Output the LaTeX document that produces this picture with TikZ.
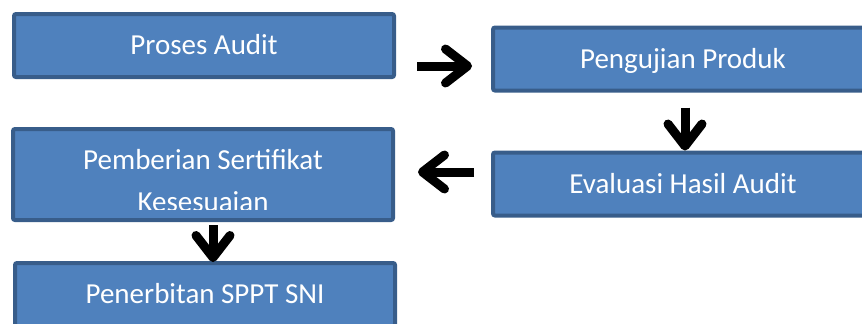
\documentclass[tikz,border=0pt]{standalone}
\usepackage{fontspec}
\setmainfont{Carlito}
\usepackage{xcolor}
\usetikzlibrary{arrows.meta,positioning,calc}
\definecolor{boxfill}{HTML}{4F81BD}
\definecolor{boxline}{HTML}{385D8A}
\tikzset{
  boxtext/.style={text=white, font=\fontsize{14.5}{21}\selectfont},
  stepbox/.style={boxtext, draw=boxline, fill=boxfill, line width=2pt, rounded corners=1pt,
    minimum width=190pt, minimum height=31.5pt, inner sep=0pt, text height=12pt, text depth=2.66pt},
  flow/.style={line width=4.5pt, -{Straight Barb[length=11pt,width=17pt,round]}},
}
\begin{document}
\begin{tikzpicture}[x=0.5pt,y=0.5pt]
\useasboundingbox (0,0) rectangle (862,323);
\clip (0,0) rectangle (862,323);
\node[stepbox] (proses) at (204,277.5) {Proses Audit};
\node[stepbox] (uji) at (683,264) {Pengujian Produk};
\node[stepbox, minimum height=45.5pt] (sertifikat) at (203,148.5) {};
\node[stepbox] (evaluasi) at (683,139) {Evaluasi Hasil Audit};
\node[stepbox] (penerbitan) at (205,28.5) {Penerbitan SPPT SNI};
\begin{scope}
\clip (sertifikat.north west) rectangle ([yshift=6.5pt]sertifikat.south east);
\node[boxtext, align=center, anchor=base, inner sep=0pt] (sertifikattext) at ([yshift=-18.25pt]sertifikat.center) {Pemberian Sertifikat\\Kesesuaian};
\end{scope}
\draw[flow] ([shift={(10.5pt,-10.25pt)}]proses.east) -- ([shift={(-9.5pt,-3.5pt)}]uji.west);
\draw[flow] ([shift={(1pt,-7.5pt)}]uji.south) -- ([xshift=1pt]evaluasi.north);
\draw[flow] ([shift={(-8.5pt,6pt)}]evaluasi.west) -- ([shift={(11.5pt,1.25pt)}]sertifikat.east);
\draw[flow] ([shift={(5pt,-1.5pt)}]sertifikat.south) -- ([shift={(4pt,-0.5pt)}]penerbitan.north);
\end{tikzpicture}
\end{document}
